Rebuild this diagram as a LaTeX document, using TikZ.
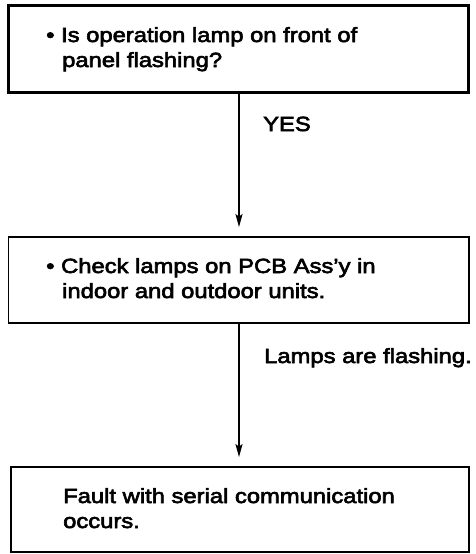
\documentclass[tikz,border=0pt]{standalone}
\usepackage{fontspec}
\setmainfont{Liberation Sans}[FakeStretch=1.16,FakeBold=3]
\usetikzlibrary{arrows.meta}
\begin{document}
\begin{tikzpicture}[x=1pt,y=-1pt,
  every node/.style={font=\fontsize{20.5}{21}\selectfont, inner sep=0pt},
  txt/.style={anchor=base west},
  boxa/.style={draw, line width=3pt, rectangle, inner sep=0pt},
  boxb/.style={draw, line width=1.8pt, rectangle, inner sep=0pt},
  arr/.style={line width=1.6pt, -{Stealth[length=13pt,width=7pt,inset=2.5pt]}}]
\useasboundingbox (0,0) rectangle (476,554);
\fill[white] (0,0) rectangle (476,554);
% boxes
\node[boxa, minimum width=459.5pt, minimum height=87pt] (b1) at (238.25,49) {};
\node[boxb, minimum width=460.5pt, minimum height=86pt] (b2) at (238.75,280) {};
\node[boxb, minimum width=458pt, minimum height=85pt] (b3) at (240,509.5) {};
% texts
\node[txt] (t1a) at (46,42) {\textbullet\ Is operation lamp on front of};
\node[txt] (t1b) at (62,67) {panel flashing?};
\node[txt] (t2a) at (46,273) {\textbullet\ Check lamps on PCB Ass’y in};
\node[txt] (t2b) at (62,298) {indoor and outdoor units.};
\node[txt] (t3a) at (63,503) {Fault with serial communication};
\node[txt] (t3b) at (63,528) {occurs.};
% labels
\node[txt] (yes) at (263,131) {YES};
\node[txt] (lamps) at (264,363) {Lamps are flashing.};
% connectors
\coordinate (a1s) at (239,92.5);
\coordinate (a2s) at (239,323.5);
\draw[arr, shorten >=9pt] (a1s) -- (a1s |- b2.north);
\draw[arr, shorten >=9pt] (a2s) -- (a2s |- b3.north);
\end{tikzpicture}
\end{document}
